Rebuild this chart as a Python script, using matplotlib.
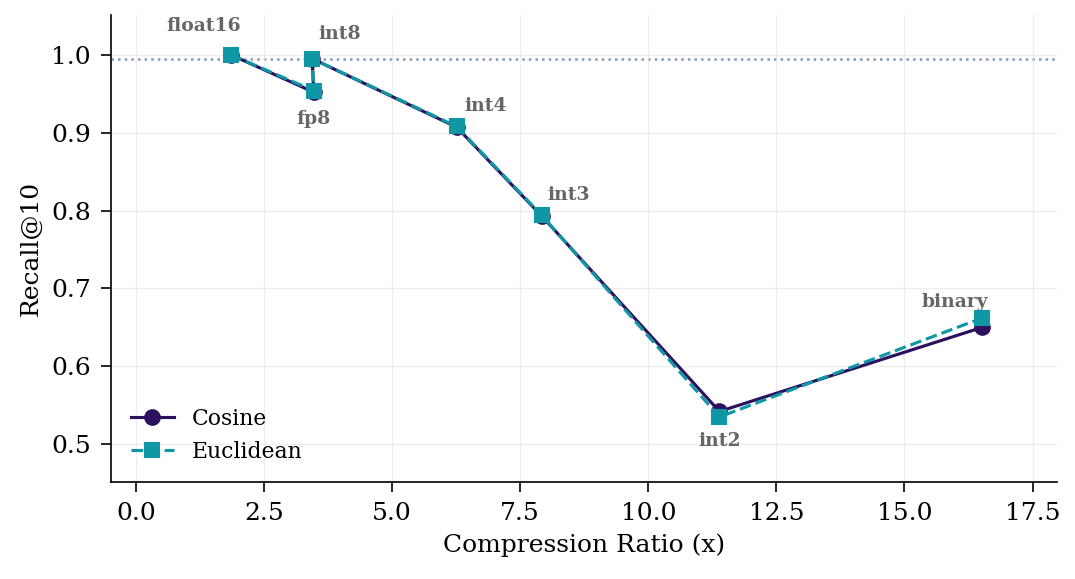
import numpy as np
import matplotlib
matplotlib.use('Agg')
import matplotlib.pyplot as plt

plt.rcParams['font.family'] = 'DejaVu Serif'

# ── 数据 ──────────────────────────────────────────────
labels = ['float16', 'fp8', 'int8', 'int4', 'int3', 'int2', 'binary']
ratio = [1.85, 3.47, 3.44, 6.26, 7.92, 11.39, 16.52]
recall_cos = [1.000, 0.952, 0.995, 0.907, 0.793, 0.542, 0.650]
recall_euc = [1.000, 0.954, 0.995, 0.908, 0.794, 0.535, 0.662]
baseline = 0.995

# 标注偏移 (points)
offsets = {
    'float16': (-13, 14), 'fp8': (0, -13), 'int8': (13, 12), 'int4': (14, 10),
    'int3': (13, 10), 'int2': (0, -14), 'binary': (-13, 12),
}

C_COS = '#2c115f'
C_EUC = '#1097a5'

fig, ax = plt.subplots(figsize=(7.173, 3.86), dpi=150)
fig.patch.set_facecolor('white')

ax.axhline(baseline, color='#7f9cb8', lw=1.2, ls=':', zorder=1)
ax.plot(ratio, recall_cos, color=C_COS, lw=1.5, marker='o', ms=7, label='Cosine', zorder=3)
ax.plot(ratio, recall_euc, color=C_EUC, lw=1.5, ls='--', marker='s', ms=7, label='Euclidean', zorder=4)

for lbl, x, y in zip(labels, ratio, recall_cos):
    ax.annotate(lbl, (x, y), xytext=offsets[lbl], textcoords='offset points',
                ha='center', va='center', fontsize=9, fontweight='bold', color='#666666')

ax.set_xlim(-0.49, 17.97)
ax.set_ylim(0.451, 1.051)
ax.set_xticks(np.arange(0, 17.6, 2.5))
ax.set_yticks([0.5, 0.6, 0.7, 0.8, 0.9, 1.0])
ax.tick_params(labelsize=12, length=5, pad=4.5)
ax.set_xlabel('Compression Ratio (x)', fontsize=12)
ax.set_ylabel('Recall@10', fontsize=12)
ax.grid(True, color='#e6e6e6', lw=0.6, alpha=0.7)
ax.spines['top'].set_visible(False)
ax.spines['right'].set_visible(False)
ax.legend(loc='lower left', frameon=False, fontsize=10.5)

plt.subplots_adjust(left=0.103, right=0.982, top=0.974, bottom=0.167)
plt.savefig('out.png', dpi=150, facecolor='white')
